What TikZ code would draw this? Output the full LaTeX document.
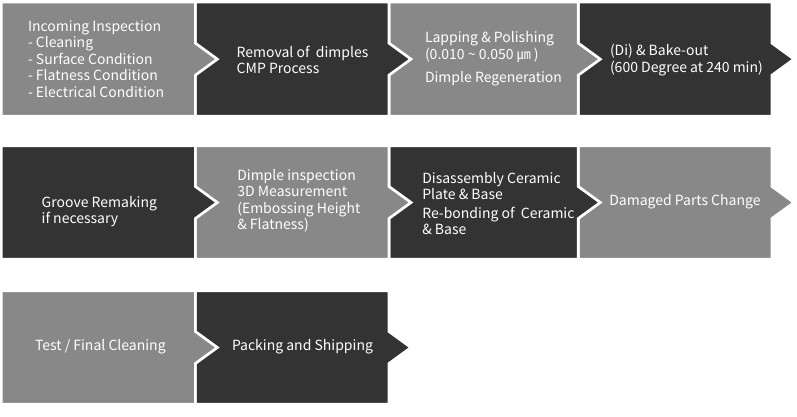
\documentclass[tikz,border=0pt]{standalone}
\usepackage{fontspec}
\setmainfont{Noto Sans CJK KR}
\definecolor{boxgray}{HTML}{888888}
\definecolor{boxdark}{HTML}{333333}
\newcommand\chevbox[5]{%
  \path[fill=#5,draw=white,line width=2.7pt,line join=miter]
    (#1,#3) -- (#2,#3) -- (#2,{(#3+#4)/2-16}) -- ({#2+22},{(#3+#4)/2})
    -- (#2,{(#3+#4)/2+16}) -- (#2,#4) -- (#1,#4) -- cycle;}
\tikzset{
  lbl/.style={anchor=west,inner sep=0pt,outer sep=0pt,text=white,align=left,
    font=\fontsize{14pt}{16.5pt}\selectfont}
}
\begin{document}
\begin{tikzpicture}[x=1pt,y=-1pt]
\useasboundingbox[fill=white] (0,0) rectangle (797,416);
% row 1 (drawn right to left so each arrow lies on the next box)
\chevbox{578.3}{772}{2}{116.3}{boxdark}
\chevbox{389}{578.3}{2}{116.3}{boxgray}
\chevbox{195.35}{389}{2}{116.3}{boxdark}
\chevbox{1.2}{195.35}{2}{116.3}{boxgray}
% row 2
\chevbox{578.3}{772}{145.7}{259.3}{boxgray}
\chevbox{389}{578.3}{145.7}{259.3}{boxdark}
\chevbox{195.35}{389}{145.7}{259.3}{boxgray}
\chevbox{1.2}{195.35}{145.7}{259.3}{boxdark}
% row 3
\chevbox{195.35}{389}{290.7}{404.3}{boxdark}
\chevbox{1.2}{195.35}{290.7}{404.3}{boxgray}
% texts
\node[lbl] (t1) at (28,58.9) {Incoming Inspection\\- Cleaning\\- Surface Condition\\- Flatness Condition\\- Electrical Condition};
\node[lbl] (t2) at (236.7,60) {Removal of\ \ dimples\\CMP Process};
\node[lbl] (t3) at (425,58.9) {Lapping \& Polishing\\(0.010 \textasciitilde{} 0.050 ㎛ )\\[7pt]Dimple Regeneration};
\node[lbl] (t4) at (610,60) {(Di) \& Bake-out\\(600 Degree at 240 min)};
\node[lbl] (t5) at (41.7,211.7) {Groove Remaking\\if necessary};
\node[lbl] (t6) at (237.3,201) {Dimple inspection\\3D Measurement\\(Embossing Height\\\& Flatness)};
\node[lbl] (t7) at (422.3,203.3) {Disassembly Ceramic\\Plate \& Base\\[2pt]Re-bonding of\ \ Ceramic\\\& Base};
\node[lbl] (t8) at (609.3,201.7) {Damaged Parts Change};
\node[lbl] (t9) at (35,346.7) {Test / Final Cleaning};
\node[lbl] (t10) at (232,346.7) {Packing and Shipping};
\end{tikzpicture}
\end{document}
